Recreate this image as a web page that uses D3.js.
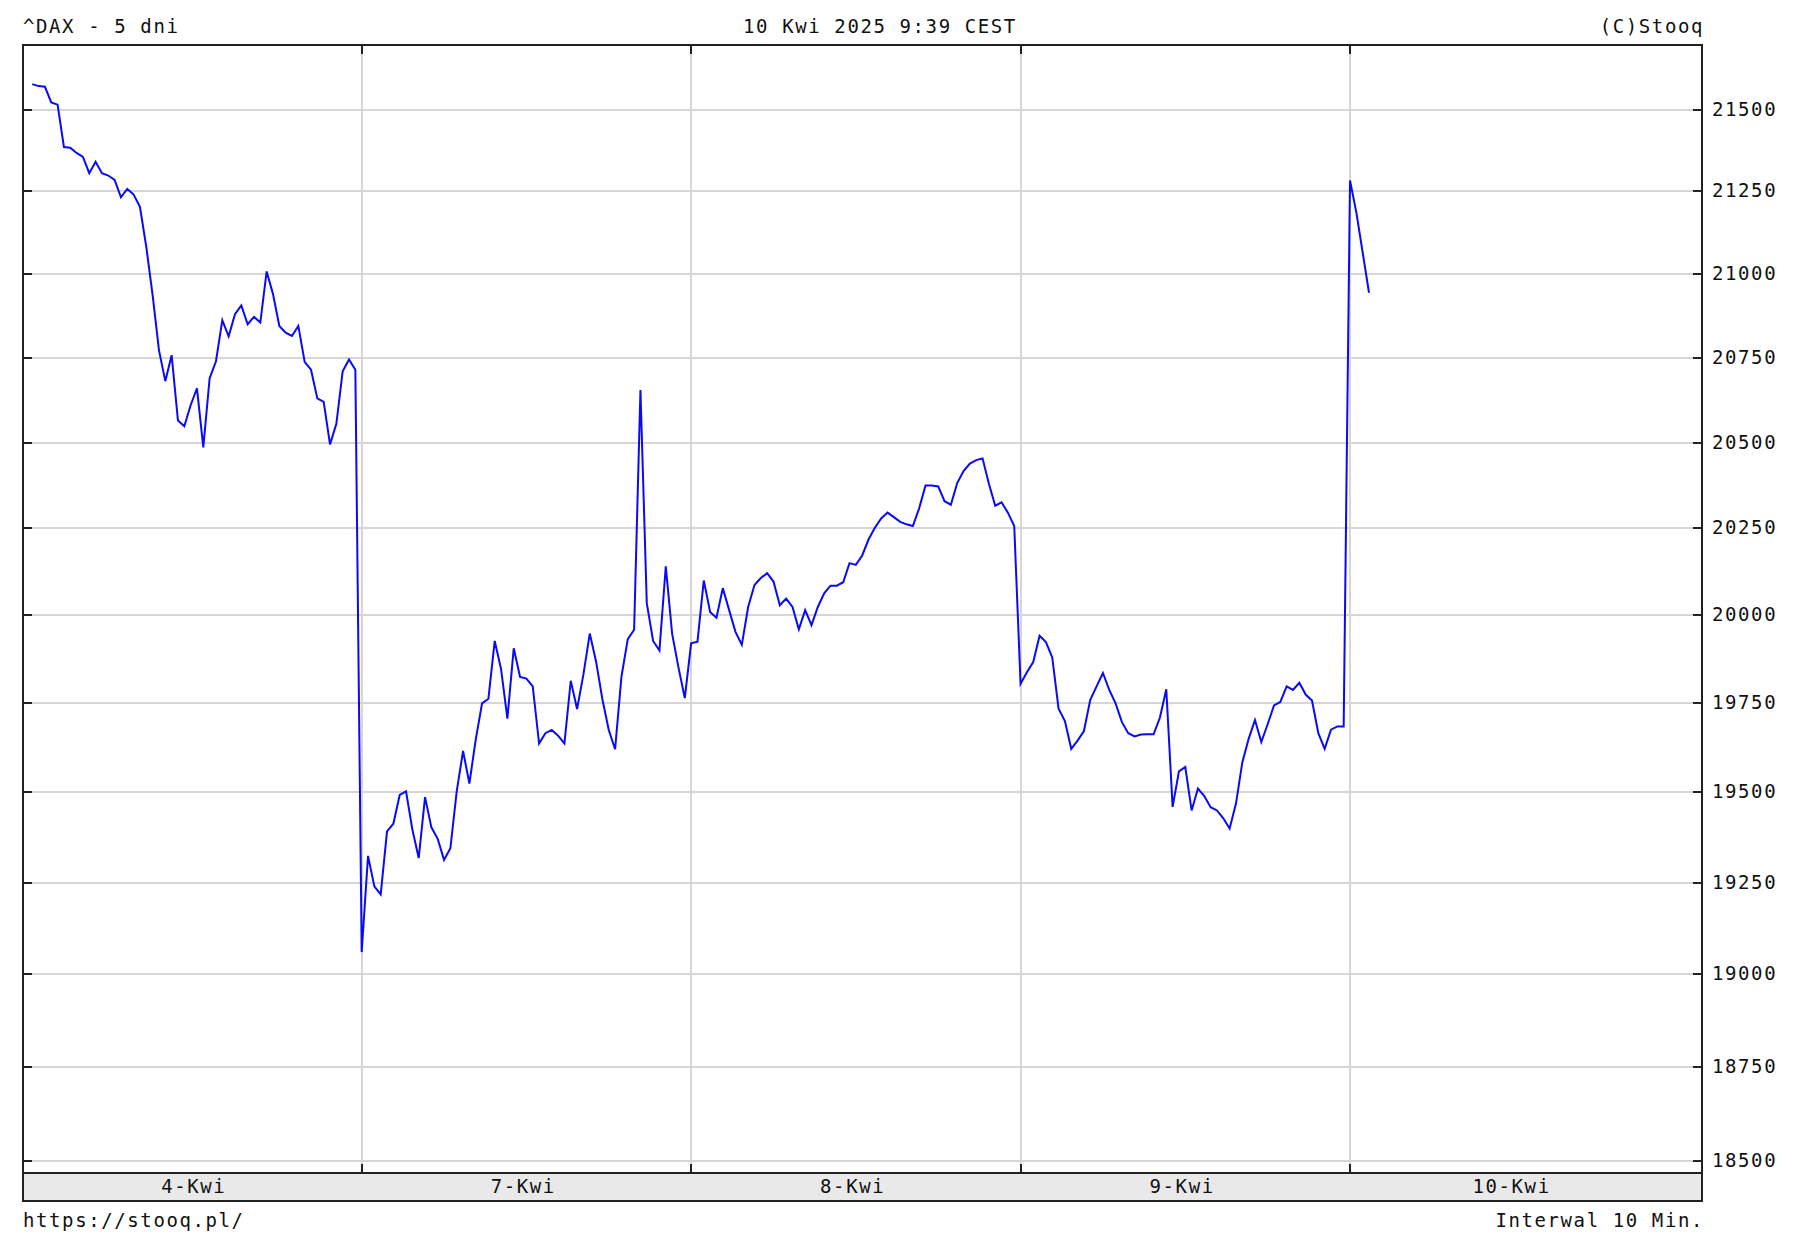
<!DOCTYPE html>
<html><head><meta charset="utf-8">
<script src="https://cdn.jsdelivr.net/npm/d3@7/dist/d3.min.js"></script>
<style>
html,body{margin:0;padding:0;background:#fff;}
svg{display:block;}
text{font-family:"DejaVu Sans Mono","Liberation Mono",monospace;font-size:19px;letter-spacing:1.6px;fill:#111;}
</style></head><body>
<svg id="c" width="1802" height="1252"></svg>
<script>
// ---- data ----
const titleLeft = "^DAX - 5 dni";
const titleCenter = "10 Kwi 2025 9:39 CEST";
const titleRight = "(C)Stooq";
const footLeft = "https://stooq.pl/";
const footRight = "Interwal 10 Min.";
const dayLabels = ["4-Kwi","7-Kwi","8-Kwi","9-Kwi","10-Kwi"];
const barsPerDay = 52; // 10-minute bars 9:00..17:30
const yTicks = [18500,18750,19000,19250,19500,19750,20000,20250,20500,20750,21000,21250,21500];

const apr04 = [21578,21572,21570,21522,21515,21385,21383,21367,21355,21305,21340,21305,21298,21285,21232,21257,21240,21203,21082,20937,20773,20681,20758,20565,20548,20610,20660,20486,20690,20740,20862,20814,20880,20906,20850,20872,20855,21008,20940,20845,20825,20815,20845,20738,20715,20630,20620,20495,20555,20710,20745,20715];
const apr07 = [19060,19324,19240,19218,19392,19413,19493,19503,19397,19318,19487,19403,19371,19313,19345,19503,19616,19525,19648,19750,19763,19927,19847,19707,19906,19825,19820,19798,19637,19666,19675,19659,19637,19814,19734,19832,19948,19868,19761,19675,19621,19825,19932,19959,20655,20035,19927,19900,20141,19948,19852,19765];
const apr08 = [19920,19925,20100,20010,19993,20078,20015,19953,19916,20024,20087,20107,20121,20097,20029,20048,20024,19960,20015,19972,20024,20063,20085,20085,20095,20150,20145,20172,20218,20252,20279,20296,20283,20269,20262,20257,20309,20375,20375,20372,20329,20319,20382,20417,20439,20449,20454,20380,20316,20326,20296,20257];
const apr09 = [19805,19838,19867,19942,19924,19880,19735,19700,19622,19645,19672,19760,19798,19836,19788,19750,19697,19666,19657,19662,19663,19663,19710,19790,19460,19559,19571,19450,19511,19490,19459,19450,19428,19400,19469,19584,19650,19703,19641,19691,19744,19754,19798,19788,19808,19775,19758,19666,19622,19676,19685,19685];
const apr10 = [21283,21186,21065,20944];
const sessions = [apr04, apr07, apr08, apr09, apr10];

// ---- layout ----
const L = 23, R = 1702, T = 45, B = 1173, BB = 1201;
const svg = d3.select("#c");

const points = [];
sessions.forEach((s, d) => s.forEach((v, i) => points.push({g: d * barsPerDay + i, v})));

const x = d3.scaleLinear().domain([-1.46, 263.56]).range([L, R]);
const y = d3.scaleLog().domain([18500, 21500]).range([1160.7, 109.5]);
const dayBounds = d3.range(1, dayLabels.length).map(d => d * barsPerDay);

// background band
svg.append("rect").attr("x", L).attr("y", B).attr("width", R - L).attr("height", BB - B)
  .attr("fill", "#e9e9e9");

// gridlines
const grid = svg.append("g").attr("stroke", "#d6d6d6").attr("stroke-width", 2);
grid.selectAll("line.h").data(yTicks).join("line")
  .attr("x1", L).attr("x2", R).attr("y1", d => Math.round(y(d))).attr("y2", d => Math.round(y(d)));
grid.selectAll("line.v").data(dayBounds).join("line")
  .attr("x1", d => Math.round(x(d))).attr("x2", d => Math.round(x(d))).attr("y1", T).attr("y2", B);

// data line
svg.append("path").datum(points)
  .attr("fill", "none").attr("stroke", "#0a0af5").attr("stroke-width", 2)
  .attr("stroke-linejoin", "miter")
  .attr("d", d3.line().x(d => x(d.g)).y(d => y(d.v)));

// frame
const frame = svg.append("g").attr("stroke", "#222").attr("stroke-width", 2).attr("fill", "none");
frame.append("rect").attr("x", L).attr("y", T).attr("width", R - L).attr("height", BB - T);
frame.append("line").attr("x1", L).attr("x2", R).attr("y1", B).attr("y2", B);

// ticks
const tk = svg.append("g").attr("stroke", "#222").attr("stroke-width", 2);
tk.selectAll("line.l").data(yTicks).join("line")
  .attr("x1", L).attr("x2", L + 9).attr("y1", d => Math.round(y(d))).attr("y2", d => Math.round(y(d)));
tk.selectAll("line.r").data(yTicks).join("line")
  .attr("x1", R - 9).attr("x2", R).attr("y1", d => Math.round(y(d))).attr("y2", d => Math.round(y(d)));
tk.selectAll("line.t").data(dayBounds).join("line")
  .attr("x1", d => Math.round(x(d))).attr("x2", d => Math.round(x(d))).attr("y1", T).attr("y2", T + 9);
tk.selectAll("line.b").data(dayBounds).join("line")
  .attr("x1", d => Math.round(x(d))).attr("x2", d => Math.round(x(d))).attr("y1", B - 9).attr("y2", B);

// y labels (right)
svg.append("g").selectAll("text").data(yTicks).join("text")
  .attr("x", 1712).attr("y", d => y(d) + 6).text(d => d);

// day labels in band: centred on the visible part of each session
svg.append("g").selectAll("text").data(dayLabels).join("text")
  .attr("x", (d, i) => (Math.max(L, x(i * barsPerDay)) + x(i * barsPerDay + barsPerDay - 1)) / 2)
  .attr("y", 1193)
  .attr("text-anchor", "middle").text(d => d);

// titles & footer
svg.append("text").attr("x", L).attr("y", 33).text(titleLeft);
svg.append("text").attr("x", 880).attr("y", 33).attr("text-anchor", "middle").text(titleCenter);
svg.append("text").attr("x", R + 2).attr("y", 33).attr("text-anchor", "end").text(titleRight);
svg.append("text").attr("x", L).attr("y", 1227).text(footLeft);
svg.append("text").attr("x", R + 2).attr("y", 1227).attr("text-anchor", "end").text(footRight);
</script>
</body></html>
